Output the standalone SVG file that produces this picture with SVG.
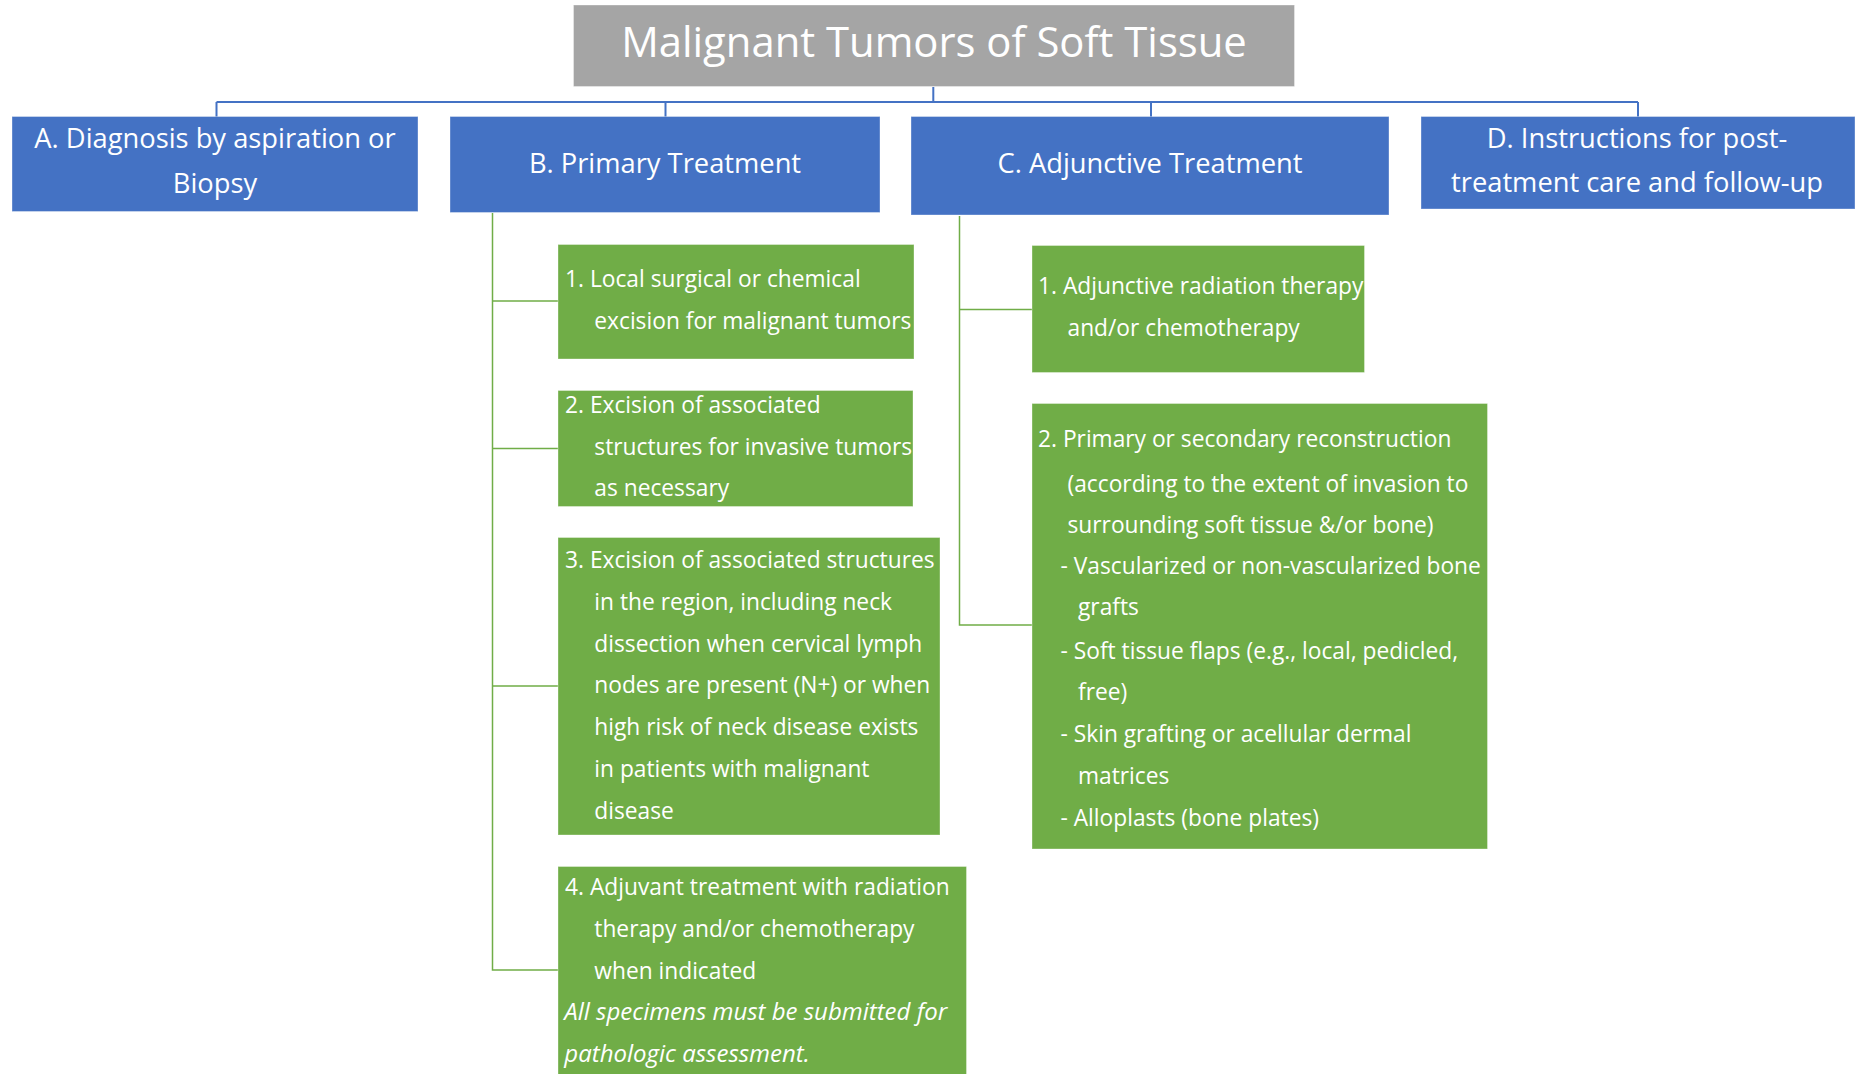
<svg xmlns="http://www.w3.org/2000/svg" width="1862" height="1074" viewBox="0 0 1862 1074">
  <style>
    .title { fill: #A5A5A5; stroke: #FFFFFF; stroke-opacity: 0.35; stroke-width: 1; }
    .head { fill: #4472C4; stroke: #FFFFFF; stroke-opacity: 0.35; stroke-width: 1; }
    .item { fill: #70AD47; stroke: #FFFFFF; stroke-opacity: 0.35; stroke-width: 1; }
    .t-title { font-family: "Open Sans", Lato, sans-serif; font-size: 41.8px; fill: #FFFFFF; text-anchor: middle; }
    .t-head { font-family: "Open Sans", Lato, sans-serif; font-size: 27.3px; fill: #FFFFFF; text-anchor: middle; }
    .t-item { font-family: "Open Sans", Lato, sans-serif; font-size: 22.75px; fill: #FFFFFF; }
    .t-note { font-style: italic; font-size: 24px; }
    .link-blue { stroke: #4472C4; stroke-width: 2; fill: none; }
    .link-green { stroke: #70AD47; stroke-width: 1.5; fill: none; }
  </style>
  <rect width="1862" height="1074" fill="#FFFFFF"/>

  <!-- connectors -->
  <g id="connectors">
    <path class="link-blue" d="M933.3 87 V102 M216.5 102 H1638 M216.5 102 V117 M665.5 102 V117 M1151 102 V117 M1638 102 V117"/>
    <path class="link-green" d="M492.5 213 V970 H558 M492.5 301 H558 M492.5 448.5 H558 M492.5 686 H558"/>
    <path class="link-green" d="M959.5 216 V625 H1032 M959.5 309.5 H1032"/>
  </g>

  <!-- root -->
  <g id="root">
    <rect class="title" x="573.5" y="5" width="721" height="81.5"/>
    <text class="t-title" x="934" y="57">Malignant Tumors of Soft Tissue</text>
  </g>

  <!-- top-level branches -->
  <g id="node-a">
    <rect class="head" x="12" y="116.5" width="406" height="95"/>
    <text class="t-head" x="215" y="148.3">A. Diagnosis by aspiration or</text>
    <text class="t-head" x="215" y="193">Biopsy</text>
  </g>
  <g id="node-b">
    <rect class="head" x="450" y="116.5" width="430" height="96"/>
    <text class="t-head" x="665" y="172.7">B. Primary Treatment</text>
  </g>
  <g id="node-c">
    <rect class="head" x="911" y="116.5" width="478" height="98.5"/>
    <text class="t-head" x="1150" y="172.7">C. Adjunctive Treatment</text>
  </g>
  <g id="node-d">
    <rect class="head" x="1421" y="116.5" width="434" height="92.5"/>
    <text class="t-head" x="1637" y="148.3">D. Instructions for post-</text>
    <text class="t-head" x="1637" y="192">treatment care and follow-up</text>
  </g>

  <!-- B: primary treatment steps -->
  <g id="node-b1">
    <rect class="item" x="558" y="244.5" width="356" height="114.5"/>
    <text class="t-item" x="565" y="287">1. Local surgical or chemical</text>
    <text class="t-item" x="594.3" y="328.5">excision for malignant tumors</text>
  </g>
  <g id="node-b2">
    <rect class="item" x="558" y="390.5" width="355" height="116"/>
    <text class="t-item" x="565" y="412.7">2. Excision of associated</text>
    <text class="t-item" x="594.3" y="454.5">structures for invasive tumors</text>
    <text class="t-item" x="594.3" y="496.3">as necessary</text>
  </g>
  <g id="node-b3">
    <rect class="item" x="558" y="537.5" width="382" height="297.5"/>
    <text class="t-item" x="565" y="567.7">3. Excision of associated structures</text>
    <text class="t-item" x="594.3" y="609.6">in the region, including neck</text>
    <text class="t-item" x="594.3" y="651.5">dissection when cervical lymph</text>
    <text class="t-item" x="594.3" y="693.3">nodes are present (N+) or when</text>
    <text class="t-item" x="594.3" y="735.2">high risk of neck disease exists</text>
    <text class="t-item" x="594.3" y="777">in patients with malignant</text>
    <text class="t-item" x="594.3" y="819">disease</text>
  </g>
  <g id="node-b4">
    <rect class="item" x="558" y="866.5" width="408.5" height="208"/>
    <text class="t-item" x="565" y="895">4. Adjuvant treatment with radiation</text>
    <text class="t-item" x="594.3" y="936.8">therapy and/or chemotherapy</text>
    <text class="t-item" x="594.3" y="978.5">when indicated</text>
    <text class="t-item t-note" x="564.3" y="1020.3">All specimens must be submitted for</text>
    <text class="t-item t-note" x="564.3" y="1062">pathologic assessment.</text>
  </g>

  <!-- C: adjunctive treatment steps -->
  <g id="node-c1">
    <rect class="item" x="1032" y="245.5" width="332.5" height="127"/>
    <text class="t-item" x="1038" y="294">1. Adjunctive radiation therapy</text>
    <text class="t-item" x="1067.5" y="336">and/or chemotherapy</text>
  </g>
  <g id="node-c2">
    <rect class="item" x="1032" y="403.5" width="455.5" height="445.5"/>
    <text class="t-item" x="1038" y="446.7">2. Primary or secondary reconstruction</text>
    <text class="t-item" x="1067.5" y="491.5">(according to the extent of invasion to</text>
    <text class="t-item" x="1067.5" y="532.5">surrounding soft tissue &amp;/or bone)</text>
    <text class="t-item" x="1060.5" y="573.5">- Vascularized or non-vascularized bone</text>
    <text class="t-item" x="1078" y="615">grafts</text>
    <text class="t-item" x="1060.5" y="658.5">- Soft tissue flaps (e.g., local, pedicled,</text>
    <text class="t-item" x="1078" y="700">free)</text>
    <text class="t-item" x="1060.5" y="742">- Skin grafting or acellular dermal</text>
    <text class="t-item" x="1078" y="784">matrices</text>
    <text class="t-item" x="1060.5" y="826">- Alloplasts (bone plates)</text>
  </g>
</svg>
